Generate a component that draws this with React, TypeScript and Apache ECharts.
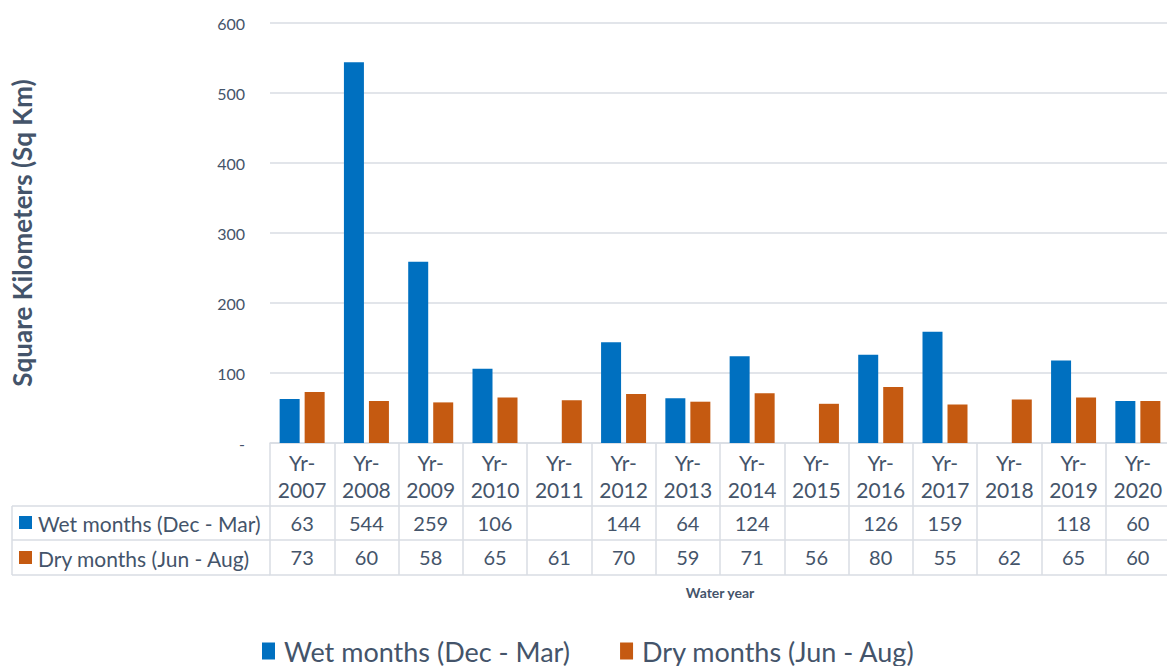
import React, { useEffect, useRef } from "react";
import * as echarts from "echarts";

const years = ["2007","2008","2009","2010","2011","2012","2013","2014","2015","2016","2017","2018","2019","2020"];
const categories = years.map((y) => "Yr-\n" + y);
const wetValues: (number | null)[] = [63, 544, 259, 106, null, 144, 64, 124, null, 126, 159, null, 118, 60];
const dryValues: number[] = [73, 60, 58, 65, 61, 70, 59, 71, 56, 80, 55, 62, 65, 60];
const yTicks = { min: 0, max: 600, interval: 100 };
const wetName = "Wet months (Dec - Mar)";
const dryName = "Dry months (Jun - Aug)";

const FONT = "Lato, 'Open Sans', sans-serif";
const TXT = "#44546a";
const LINE = "#d9dde3";
const WET = "#0070c0";
const DRY = "#c55a11";

export default function App() {
  const ref = useRef<HTMLDivElement>(null);
  useEffect(() => {
    document.body.style.margin = "0";
    const chart = echarts.init(ref.current!, null, { renderer: "svg" });
    const tableAxisBase = {
      type: "category" as const,
      position: "bottom" as const,
      boundaryGap: true,
      axisLine: { show: true, lineStyle: { color: LINE, width: 1.5 } },
      axisTick: { show: false },
      splitLine: { show: false },
    };
    const option = {
      animation: false,
      textStyle: { fontFamily: FONT },
      grid: { left: 270, top: 23, width: 900, bottom: 223, containLabel: false, outerBoundsMode: "none" },
      legend: {
        bottom: 0,
        left: 262,
        padding: 0,
        itemWidth: 13,
        itemHeight: 17,
        itemGap: 50,
        icon: "rect",
        textStyle: { color: TXT, fontSize: 27, lineHeight: 30, fontFamily: FONT, padding: [0, 0, 0, 4] },
        data: [wetName, dryName],
      },
      xAxis: [
        {
          type: "category",
          data: categories,
          position: "bottom",
          boundaryGap: true,
          axisLine: { show: true, lineStyle: { color: LINE, width: 1.5 } },
          axisTick: { show: true, length: 132, inside: false, lineStyle: { color: LINE, width: 1.5 } },
          axisLabel: { interval: 0, color: TXT, fontSize: 21, lineHeight: 27, margin: 6, fontFamily: FONT },
        },
        {
          ...tableAxisBase,
          offset: 63,
          data: wetValues.map((v) => (v == null ? "" : String(v))),
          axisLabel: { interval: 0, color: TXT, fontSize: 20, margin: 7, fontFamily: FONT },
        },
        {
          ...tableAxisBase,
          offset: 97,
          data: dryValues.map((v) => String(v)),
          axisLabel: { interval: 0, color: TXT, fontSize: 20, margin: 7, fontFamily: FONT },
        },
        {
          ...tableAxisBase,
          offset: 132,
          data: years,
          axisLabel: { show: false },
          name: "Water year",
          nameLocation: "middle",
          nameGap: 10,
          nameTextStyle: { color: TXT, fontSize: 14, fontWeight: "bold", fontFamily: FONT },
        },
      ],
      yAxis: {
        type: "value",
        min: yTicks.min,
        max: yTicks.max,
        interval: yTicks.interval,
        axisLine: { show: false },
        axisTick: { show: false },
        splitLine: { lineStyle: { color: LINE, width: 1.5 } },
        axisLabel: {
          color: TXT,
          fontSize: 16,
          margin: 25,
          fontFamily: FONT,
          formatter: (v: number) => (v === 0 ? "-" : String(v)),
        },
        name: "Square Kilometers (Sq Km)",
        nameLocation: "middle",
        nameRotate: 90,
        nameGap: 235,
        nameTextStyle: { color: TXT, fontSize: 26, fontWeight: "bold", fontFamily: FONT },
      },
      series: [
        {
          name: wetName,
          type: "bar",
          data: wetValues,
          barWidth: 20,
          barGap: "25%",
          itemStyle: { color: WET },
          xAxisIndex: 0,
        },
        {
          name: dryName,
          type: "bar",
          data: dryValues,
          barWidth: 20,
          barGap: "25%",
          itemStyle: { color: DRY },
          xAxisIndex: 0,
        },
      ],
      graphic: [
        { type: "line", shape: { x1: 12, y1: 506, x2: 270, y2: 506 }, style: { stroke: LINE, lineWidth: 1.5 } },
        { type: "line", shape: { x1: 12, y1: 540, x2: 270, y2: 540 }, style: { stroke: LINE, lineWidth: 1.5 } },
        { type: "line", shape: { x1: 12, y1: 575, x2: 270, y2: 575 }, style: { stroke: LINE, lineWidth: 1.5 } },
        { type: "line", shape: { x1: 12, y1: 506, x2: 12, y2: 575 }, style: { stroke: LINE, lineWidth: 1.5 } },
        { type: "rect", shape: { x: 19, y: 516, width: 13, height: 13 }, style: { fill: WET } },
        { type: "rect", shape: { x: 19, y: 551, width: 13, height: 13 }, style: { fill: DRY } },
        {
          type: "text",
          x: 38,
          y: 523,
          style: { text: wetName, fill: TXT, fontSize: 21, fontFamily: FONT, verticalAlign: "middle" },
        },
        {
          type: "text",
          x: 38,
          y: 558,
          style: { text: dryName, fill: TXT, fontSize: 21, fontFamily: FONT, verticalAlign: "middle" },
        },
      ],
    };
    chart.setOption(option as any);
    return () => chart.dispose();
  }, []);
  return <div ref={ref} style={{ width: 1167, height: 666 }} />;
}
